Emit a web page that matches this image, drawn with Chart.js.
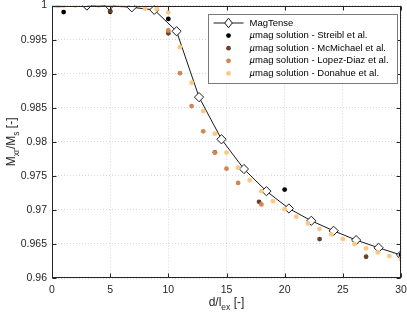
<!DOCTYPE html>
<html>
<head>
<meta charset="utf-8">
<script src="https://cdn.jsdelivr.net/npm/chart.js@4"></script>
<style>
html, body { margin: 0; padding: 0; background: #fff; }
</style>
</head>
<body>
<canvas id="chart" width="407" height="317"></canvas>
<script>
// MagTense curve
const magD = [3, 4.93, 6.86, 8.79, 10.71, 12.64, 14.57, 16.5, 18.43, 20.36, 22.29, 24.21, 26.14, 28.07, 30];
const magM = [1, 1, 0.99975, 0.99937, 0.99623, 0.98656, 0.98037, 0.9760, 0.97275, 0.97021, 0.9684, 0.96693, 0.96557, 0.96444, 0.96337];

// micromagnetic reference solutions
const streiblD = [1, 5, 10, 20, 30];
const streiblM = [0.99905, 0.9991, 0.99805, 0.97299, 0.9634];

const mcmichaelD = [5, 10, 14, 17.8, 23, 27];
const mcmichaelM = [0.9992, 0.99594, 0.97845, 0.97118, 0.96571, 0.96312];

const lopezD = [0.5, 10, 11, 12, 13, 14, 15, 16, 18];
const lopezM = [1, 0.99634, 0.99008, 0.98525, 0.98154, 0.97842, 0.97605, 0.97396, 0.9708];

const donahueD = [0.25, 0.5, 0.75, 1, 2, 4, 6, 8, 9, 10, 11, 12, 13, 14, 15, 16, 17, 18, 19, 20, 21, 22, 23, 24, 25, 26, 27, 28, 29, 30];
const donahueM = [1, 1, 1, 1, 1, 1, 1, 0.99956, 0.9995, 0.9990, 0.99389, 0.98867, 0.98451, 0.9812, 0.97842, 0.9762, 0.97436, 0.97275, 0.97128, 0.9701, 0.96898, 0.96801, 0.96718, 0.9664, 0.96571, 0.96498, 0.96435, 0.96377, 0.96322, 0.96274];

const xTicksStep = 5;
const yTicksStep = 0.005;

const FONT = "'Liberation Sans', Arial, Helvetica, sans-serif";
const AXIS = '#262626';

function pts(xs, ys) {
    return xs.map((x, i) => ({ x: x, y: ys[i] }));
}

function dots(label, xs, ys, color, order) {
    return {
        label: label,
        data: pts(xs, ys),
        showLine: false,
        pointRadius: 2.4,
        pointBorderWidth: 0,
        pointBackgroundColor: color,
        pointBorderColor: color,
        order: order
    };
}

// box, inward ticks, axis titles with subscripts
const framePlugin = {
    id: 'frame',
    afterDraw(chart) {
        const ctx = chart.ctx;
        const a = chart.chartArea;
        const xs = chart.scales.x, ys = chart.scales.y;
        ctx.save();
        ctx.strokeStyle = AXIS;
        ctx.lineWidth = 1;
        const L = Math.round(a.left) + 0.5, R = Math.round(a.right) - 0.5;
        const T = Math.round(a.top) + 0.5, B = Math.round(a.bottom) - 0.5;
        ctx.strokeRect(L, T, R - L, B - T);
        ctx.beginPath();
        xs.ticks.forEach(t => {
            const px = Math.round(xs.getPixelForValue(t.value)) + 0.5;
            ctx.moveTo(px, B); ctx.lineTo(px, B - 4);
            ctx.moveTo(px, T); ctx.lineTo(px, T + 4);
        });
        ys.ticks.forEach(t => {
            const py = Math.round(ys.getPixelForValue(t.value)) + 0.5;
            ctx.moveTo(L, py); ctx.lineTo(L + 4, py);
            ctx.moveTo(R, py); ctx.lineTo(R - 4, py);
        });
        ctx.stroke();

        ctx.fillStyle = AXIS;
        ctx.textBaseline = 'alphabetic';
        const big = '12px ' + FONT, small = '8.5px ' + FONT;
        const widthOf = (p) => p.reduce((s, part) => {
            ctx.font = part.sub ? small : big;
            return s + ctx.measureText(part.t).width;
        }, 0);
        const drawParts = (p, x, y) => {
            p.forEach(part => {
                ctx.font = part.sub ? small : big;
                ctx.fillText(part.t, x, y + (part.sub ? 3.5 : 0));
                x += ctx.measureText(part.t).width;
            });
        };
        // x title: d/l_ex [-]
        const xt = [{ t: 'd/l' }, { t: 'ex', sub: true }, { t: ' [-]' }];
        drawParts(xt, (a.left + a.right) / 2 - widthOf(xt) / 2, 306);

        // y title: M_xr/M_s [-]
        const yt = [{ t: 'M' }, { t: 'xr', sub: true }, { t: '/M' }, { t: 's', sub: true }, { t: ' [-]' }];
        const yw = widthOf(yt);
        ctx.translate(15, (a.top + a.bottom) / 2);
        ctx.rotate(-Math.PI / 2);
        drawParts(yt, -yw / 2, 0);
        ctx.restore();
    }
};

// legend box inside the axes, top right
const legendPlugin = {
    id: 'boxLegend',
    afterDraw(chart) {
        const ctx = chart.ctx;
        const a = chart.chartArea;
        const sets = chart.data.datasets;
        const right = Math.round(a.right) - 3.5;
        const left = 208.5;
        const top = Math.round(a.top) + 8.5;
        const rowH = 12.6;
        const bottom = top + 6 + sets.length * rowH;
        ctx.save();
        ctx.fillStyle = '#fff';
        ctx.fillRect(left, top, right - left, bottom - top);
        ctx.strokeStyle = '#7a7a7a';
        ctx.lineWidth = 1;
        ctx.strokeRect(left, top, right - left, bottom - top);
        sets.forEach((ds, i) => {
            const cy = top + 8.5 + i * rowH;
            const mx = left + 20;
            if (ds.showLine) {
                ctx.strokeStyle = ds.borderColor;
                ctx.lineWidth = 1;
                ctx.beginPath();
                ctx.moveTo(left + 5, cy); ctx.lineTo(left + 35, cy);
                ctx.stroke();
                ctx.fillStyle = '#fff';
                ctx.strokeStyle = ds.pointBorderColor;
                ctx.beginPath();
                ctx.moveTo(mx - 3.8, cy); ctx.lineTo(mx, cy - 4.8);
                ctx.lineTo(mx + 3.8, cy); ctx.lineTo(mx, cy + 4.8);
                ctx.closePath();
                ctx.fill(); ctx.stroke();
            } else {
                ctx.fillStyle = ds.pointBackgroundColor;
                ctx.beginPath();
                ctx.arc(mx, cy, 2.4, 0, Math.PI * 2);
                ctx.fill();
            }
            ctx.fillStyle = '#000';
            ctx.textBaseline = 'middle';
            let tx = left + 41;
            let txt = ds.label;
            if (txt.startsWith('\u00b5')) {
                ctx.font = 'italic 9.5px ' + FONT;
                ctx.fillText('\u00b5', tx, cy);
                tx += ctx.measureText('\u00b5').width;
                txt = txt.slice(1);
            }
            ctx.font = '9.5px ' + FONT;
            ctx.fillText(txt, tx, cy);
        });
        ctx.restore();
    }
};

const ctx = document.getElementById('chart').getContext('2d');
const chart = new Chart(ctx, {
    type: 'scatter',
    data: {
        datasets: [
            {
                label: 'MagTense',
                data: pts(magD, magM),
                showLine: true,
                borderColor: '#1a1a1a',
                borderWidth: 1,
                pointStyle: 'rectRot',
                pointRadius: 4.6,
                pointBorderWidth: 1,
                pointBackgroundColor: '#fff',
                pointBorderColor: '#1a1a1a',
                tension: 0,
                order: 5
            },
            dots('\u00b5mag solution - Streibl et al.', streiblD, streiblM, '#000000', 4),
            dots('\u00b5mag solution - McMichael et al.', mcmichaelD, mcmichaelM, '#6a422a', 3),
            dots('\u00b5mag solution - Lopez-Diaz et al.', lopezD, lopezM, '#d48554', 2),
            dots('\u00b5mag solution - Donahue et al.', donahueD, donahueM, '#ffc77f', 1)
        ]
    },
    options: {
        responsive: false,
        devicePixelRatio: 1,
        animation: false,
        events: [],
        layout: { padding: { top: 5, right: 6, left: 0, bottom: 0 } },
        plugins: {
            legend: { display: false },
            tooltip: { enabled: false }
        },
        scales: {
            x: {
                type: 'linear',
                min: 0,
                max: 30,
                ticks: {
                    stepSize: xTicksStep,
                    color: AXIS,
                    padding: 6,
                    maxRotation: 0,
                    font: { family: FONT, size: 10.5 }
                },
                grid: { color: 'rgba(38,38,38,0.18)', drawTicks: false },
                border: { display: false, dash: [1, 2] },
                afterFit: s => { s.height = 39; s.paddingLeft = 0; s.paddingRight = 0; }
            },
            y: {
                type: 'linear',
                min: 0.96,
                max: 1,
                ticks: {
                    stepSize: yTicksStep,
                    color: AXIS,
                    padding: 5,
                    font: { family: FONT, size: 10.5 },
                    callback: v => Number(v.toFixed(3)).toString()
                },
                grid: { color: 'rgba(38,38,38,0.18)', drawTicks: false },
                border: { display: false, dash: [1, 2] },
                afterFit: s => { s.width = 52; s.paddingTop = 0; s.paddingBottom = 0; }
            }
        }
    },
    plugins: [framePlugin, legendPlugin]
});
</script>
</body>
</html>
